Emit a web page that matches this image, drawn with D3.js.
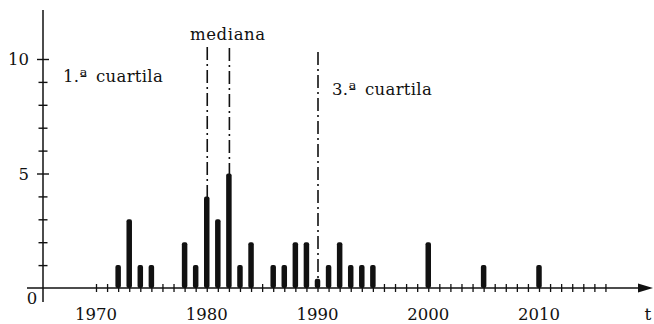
<!DOCTYPE html>
<html><head><meta charset="utf-8">
<script src="https://cdn.jsdelivr.net/npm/d3@7/dist/d3.min.js"></script>
<style>
html,body{margin:0;padding:0;background:#fff;}
svg{display:block;}
svg text{font-family:"DejaVu Serif","Liberation Serif",Times,serif;}
</style></head>
<body>
<svg id="c" width="654" height="324"></svg>
<script>
// data
const years  = [1972,1973,1974,1975,1978,1979,1980,1981,1982,1983,1984,1986,1987,1988,1989,1990,1991,1992,1993,1994,1995,2000,2005,2010];
const counts = [1,3,1,1,2,1,4,3,5,1,2,1,1,2,2,0.4,1,2,1,1,1,2,1,1];
const yTickValues = [1,2,3,4,5,6,7,8,9,10];
const yTickLabels = [5,10];
const xTickYears = d3.range(1970, 2017);
const xTickLabels = [1970,1980,1990,2000,2010];
const markerYears = [1980,1982,1990];
const markerTops = [47,48,52];

const svg = d3.select("#c");
const ink = "#111";
const x = d3.scaleLinear().domain([1970,2010]).range([96,539]);
const y = d3.scaleLinear().domain([0,10]).range([288,59]);
const x0 = 43, y0 = y(0);

// dash-dot lines (behind bars)
svg.append("g").selectAll("line").data(markerYears).join("line")
  .attr("x1", d=>x(d)+0.5).attr("x2", d=>x(d)+0.5)
  .attr("y1", (d,i)=>markerTops[i]).attr("y2", y0)
  .attr("stroke", ink).attr("stroke-width", 1.6)
  .attr("stroke-dasharray", "13,4,2,4");

// x axis line
svg.append("line").attr("x1",27).attr("x2",640).attr("y1",y0).attr("y2",y0)
  .attr("stroke",ink).attr("stroke-width",1.4);
svg.append("path").attr("d",`M638,${y0-4.5} L653,${y0} L638,${y0+4.5} Z`).attr("fill",ink);

// x ticks
const xa = d3.axisBottom(x).tickValues(xTickYears).tickSize(0).tickFormat("");
const gx = svg.append("g").attr("transform",`translate(0,${y0})`).call(xa);
gx.select(".domain").remove();
gx.selectAll(".tick").append("line").attr("y1",-4).attr("y2",4).attr("stroke",ink).attr("stroke-width",1.3);

function txt(xp, yp, s, size, anchor){
  return svg.append("text").attr("x",xp).attr("y",yp).attr("font-size",size)
    .attr("fill",ink).attr("text-anchor",anchor||"start").text(s);
}

// x labels
xTickLabels.forEach(d=>txt(x(d), 320, d, 16.5, "middle"));
txt(648, 320, "t", 17, "middle");

// y axis
svg.append("line").attr("x1",x0).attr("x2",x0).attr("y1",10).attr("y2",302)
  .attr("stroke",ink).attr("stroke-width",1.5);
const ya = d3.axisLeft(y).tickValues(yTickValues).tickSize(0).tickFormat("");
const gy = svg.append("g").attr("transform",`translate(${x0},0)`).call(ya);
gy.select(".domain").remove();
gy.selectAll(".tick").append("line")
  .attr("x1", d=> yTickLabels.includes(d)? -6 : -4.5)
  .attr("x2", d=> yTickLabels.includes(d)? 6 : 4.5)
  .attr("stroke",ink).attr("stroke-width",1.4);
yTickLabels.forEach(d=>txt(29, y(d)+6, d, 16.5, "end"));
txt(32, 304, "0", 16.5, "middle");

// bars
svg.append("g").selectAll("rect").data(years).join("rect")
  .attr("x", d=>x(d)-2.75).attr("width",5.5)
  .attr("y", (d,i)=>y(counts[i])).attr("height",(d,i)=>y0-y(counts[i]))
  .attr("rx",2).attr("fill",ink);

// annotations
txt(63, 82, "1.ª cuartila", 16.5).attr("letter-spacing",0.3).attr("word-spacing",3);
txt(332, 95, "3.ª cuartila", 16.5).attr("letter-spacing",0.3).attr("word-spacing",3);
txt(190, 40, "mediana", 16.5).attr("letter-spacing",0.6);
</script>
</body></html>
